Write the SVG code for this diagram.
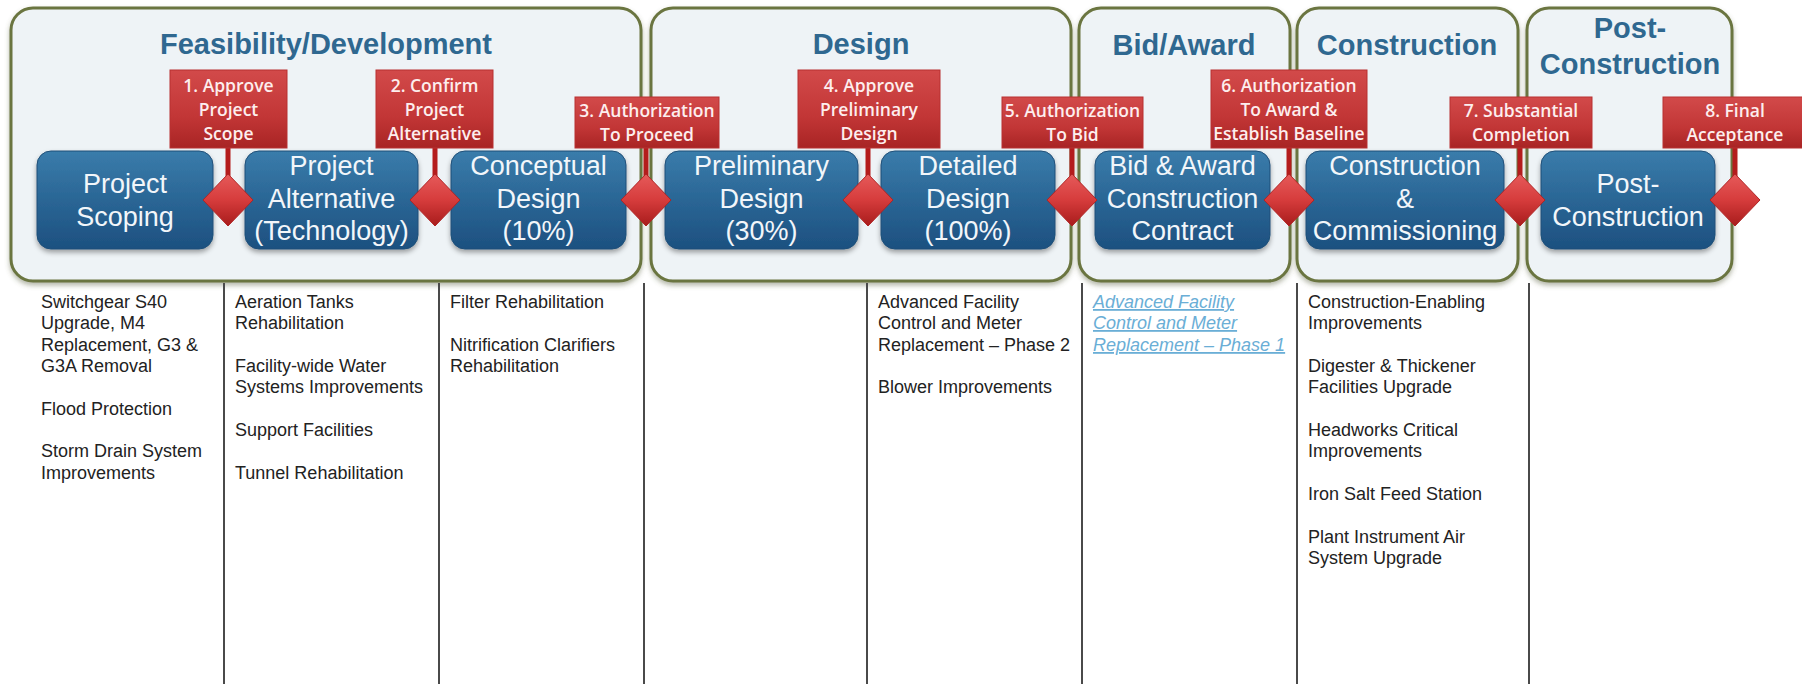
<svg xmlns="http://www.w3.org/2000/svg" width="1802" height="684" viewBox="0 0 1802 684">
<defs>
<linearGradient id="gNode" x1="0" y1="0" x2="0" y2="1">
<stop offset="0" stop-color="#3a7cab"/><stop offset="0.5" stop-color="#2a6695"/><stop offset="1" stop-color="#1d5080"/>
</linearGradient>
<linearGradient id="gLabel" x1="0" y1="0" x2="0" y2="1">
<stop offset="0" stop-color="#d24a4a"/><stop offset="0.6" stop-color="#c23636"/><stop offset="1" stop-color="#a82424"/>
</linearGradient>
<linearGradient id="gDia" x1="0" y1="0" x2="0" y2="1">
<stop offset="0" stop-color="#e65a5a"/><stop offset="0.5" stop-color="#d63c3c"/><stop offset="1" stop-color="#a81c1c"/>
</linearGradient>
<filter id="shPhase" x="-5%" y="-5%" width="110%" height="115%">
<feDropShadow dx="0" dy="3" stdDeviation="2.5" flood-color="#5a6040" flood-opacity="0.45"/>
</filter>
<filter id="shNode" x="-10%" y="-10%" width="120%" height="130%">
<feDropShadow dx="0" dy="3" stdDeviation="2.5" flood-color="#000" flood-opacity="0.35"/>
</filter>
<style>
.phase{fill:#eef3f6;stroke:#6b7540;stroke-width:3}
.ptitle{font-family:"Liberation Sans",Arial,sans-serif;font-weight:bold;font-size:29px;fill:#2f6890;text-anchor:middle}
.node{fill:url(#gNode);stroke:#1f4f78;stroke-width:1;filter:url(#shNode)}
.ntext{font-family:"Liberation Sans",Arial,sans-serif;font-size:27px;fill:#f2f6fa;text-anchor:middle}
.label{fill:url(#gLabel);stroke:#b83030;stroke-width:1}
.ltext{font-family:"Open Sans","Liberation Sans",sans-serif;font-weight:600;font-size:17.5px;fill:#fdeeee;text-anchor:middle}
.dia{fill:url(#gDia);stroke:#b02424;stroke-width:1}
.stem{stroke:#b41c1c;stroke-width:5}
.col{stroke:#4a4a4a;stroke-width:2}
.item{font-family:"Liberation Sans",Arial,sans-serif;font-size:18px;fill:#222}
.link{font-family:"Liberation Sans",Arial,sans-serif;font-size:18px;fill:#6aaed6;font-style:italic;text-decoration:underline}
</style>
</defs>
<rect width="1802" height="684" fill="#ffffff"/>

<g id="phases">
<g id="phase-feasibility"><rect class="phase" x="11" y="8" width="630" height="273" rx="22" filter="url(#shPhase)"/><text class="ptitle" x="326" y="54">Feasibility/Development</text></g>
<g id="phase-design"><rect class="phase" x="651" y="8" width="420" height="273" rx="22" filter="url(#shPhase)"/><text class="ptitle" x="861" y="54">Design</text></g>
<g id="phase-bid"><rect class="phase" x="1079" y="8" width="211" height="273" rx="22" filter="url(#shPhase)"/><text class="ptitle" x="1184" y="55">Bid/Award</text></g>
<g id="phase-construction"><rect class="phase" x="1297" y="8" width="221" height="273" rx="22" filter="url(#shPhase)"/><text class="ptitle" x="1407" y="55">Construction</text></g>
<g id="phase-post"><rect class="phase" x="1527" y="8" width="205" height="273" rx="22" filter="url(#shPhase)"/><text class="ptitle" x="1630" y="38">Post-</text><text class="ptitle" x="1630" y="74">Construction</text></g>
</g>

<g id="columns">
<line class="col" x1="224" y1="283" x2="224" y2="684"/>
<line class="col" x1="439" y1="283" x2="439" y2="684"/>
<line class="col" x1="644" y1="283" x2="644" y2="684"/>
<line class="col" x1="867" y1="283" x2="867" y2="684"/>
<line class="col" x1="1082" y1="283" x2="1082" y2="684"/>
<line class="col" x1="1297" y1="283" x2="1297" y2="684"/>
<line class="col" x1="1529" y1="283" x2="1529" y2="684"/>
</g>

<g id="nodes">
<g id="n-scoping"><rect class="node" x="37" y="151" width="176" height="98" rx="14"/><text class="ntext" x="125" y="193">Project</text><text class="ntext" x="125" y="226">Scoping</text></g>
<g id="n-alternative"><rect class="node" x="245" y="151" width="173" height="98" rx="14"/><text class="ntext" x="331.5" y="175">Project</text><text class="ntext" x="331.5" y="208">Alternative</text><text class="ntext" x="331.5" y="240">(Technology)</text></g>
<g id="n-conceptual"><rect class="node" x="451" y="151" width="175" height="98" rx="14"/><text class="ntext" x="538.5" y="175">Conceptual</text><text class="ntext" x="538.5" y="208">Design</text><text class="ntext" x="538.5" y="240">(10%)</text></g>
<g id="n-preliminary"><rect class="node" x="665" y="151" width="193" height="98" rx="14"/><text class="ntext" x="761.5" y="175">Preliminary</text><text class="ntext" x="761.5" y="208">Design</text><text class="ntext" x="761.5" y="240">(30%)</text></g>
<g id="n-detailed"><rect class="node" x="881" y="151" width="174" height="98" rx="14"/><text class="ntext" x="968" y="175">Detailed</text><text class="ntext" x="968" y="208">Design</text><text class="ntext" x="968" y="240">(100%)</text></g>
<g id="n-bid"><rect class="node" x="1095" y="151" width="175" height="98" rx="14"/><text class="ntext" x="1182.5" y="175">Bid &amp; Award</text><text class="ntext" x="1182.5" y="208">Construction</text><text class="ntext" x="1182.5" y="240">Contract</text></g>
<g id="n-construction"><rect class="node" x="1306" y="151" width="198" height="98" rx="14"/><text class="ntext" x="1405" y="175">Construction</text><text class="ntext" x="1405" y="208">&amp;</text><text class="ntext" x="1405" y="240">Commissioning</text></g>
<g id="n-post"><rect class="node" x="1541" y="151" width="174" height="98" rx="14"/><text class="ntext" x="1628" y="193">Post-</text><text class="ntext" x="1628" y="226">Construction</text></g>
</g>

<g id="connectors">
<line class="stem" x1="228" y1="147" x2="228" y2="176"/>
<line class="stem" x1="435" y1="147" x2="435" y2="176"/>
<line class="stem" x1="646" y1="147" x2="646" y2="176"/>
<line class="stem" x1="868" y1="147" x2="868" y2="176"/>
<line class="stem" x1="1072" y1="147" x2="1072" y2="176"/>
<line class="stem" x1="1289" y1="147" x2="1289" y2="176"/>
<line class="stem" x1="1520" y1="147" x2="1520" y2="176"/>
<line class="stem" x1="1735" y1="147" x2="1735" y2="176"/>
</g>

<g id="milestones">
<g id="m1"><rect class="label" x="170" y="70" width="117" height="78"/><text class="ltext" x="228.5" y="92">1. Approve</text><text class="ltext" x="228.5" y="116">Project</text><text class="ltext" x="228.5" y="140">Scope</text><polygon class="dia" points="228,174 253,200 228,226 203,200"/></g>
<g id="m2"><rect class="label" x="376" y="70" width="117" height="78"/><text class="ltext" x="434.5" y="92">2. Confirm</text><text class="ltext" x="434.5" y="116">Project</text><text class="ltext" x="434.5" y="140">Alternative</text><polygon class="dia" points="435,174 460,200 435,226 410,200"/></g>
<g id="m3"><rect class="label" x="575" y="97" width="144" height="51"/><text class="ltext" x="647" y="117">3. Authorization</text><text class="ltext" x="647" y="141">To Proceed</text><polygon class="dia" points="646,174 671,200 646,226 621,200"/></g>
<g id="m4"><rect class="label" x="798" y="70" width="142" height="78"/><text class="ltext" x="869" y="92">4. Approve</text><text class="ltext" x="869" y="116">Preliminary</text><text class="ltext" x="869" y="140">Design</text><polygon class="dia" points="868,174 893,200 868,226 843,200"/></g>
<g id="m5"><rect class="label" x="1002" y="97" width="141" height="51"/><text class="ltext" x="1072.5" y="117">5. Authorization</text><text class="ltext" x="1072.5" y="141">To Bid</text><polygon class="dia" points="1072,174 1097,200 1072,226 1047,200"/></g>
<g id="m6"><rect class="label" x="1211" y="70" width="156" height="78"/><text class="ltext" x="1289" y="92">6. Authorization</text><text class="ltext" x="1289" y="116">To Award &amp;</text><text class="ltext" x="1289" y="140">Establish Baseline</text><polygon class="dia" points="1289,174 1314,200 1289,226 1264,200"/></g>
<g id="m7"><rect class="label" x="1450" y="97" width="142" height="51"/><text class="ltext" x="1521" y="117">7. Substantial</text><text class="ltext" x="1521" y="141">Completion</text><polygon class="dia" points="1520,174 1545,200 1520,226 1495,200"/></g>
<g id="m8"><rect class="label" x="1663" y="97" width="144" height="51"/><text class="ltext" x="1735" y="117">8. Final</text><text class="ltext" x="1735" y="141">Acceptance</text><polygon class="dia" points="1735,174 1760,200 1735,226 1710,200"/></g>
</g>

<g id="projects">
<g id="col-scoping">
<text class="item" x="41" y="308">Switchgear S40</text>
<text class="item" x="41" y="329">Upgrade, M4</text>
<text class="item" x="41" y="351">Replacement, G3 &amp;</text>
<text class="item" x="41" y="372">G3A Removal</text>
<text class="item" x="41" y="415">Flood Protection</text>
<text class="item" x="41" y="457">Storm Drain System</text>
<text class="item" x="41" y="479">Improvements</text>
</g>
<g id="col-alternative">
<text class="item" x="235" y="308">Aeration Tanks</text>
<text class="item" x="235" y="329">Rehabilitation</text>
<text class="item" x="235" y="372">Facility-wide Water</text>
<text class="item" x="235" y="393">Systems Improvements</text>
<text class="item" x="235" y="436">Support Facilities</text>
<text class="item" x="235" y="479">Tunnel Rehabilitation</text>
</g>
<g id="col-conceptual">
<text class="item" x="450" y="308">Filter Rehabilitation</text>
<text class="item" x="450" y="351">Nitrification Clarifiers</text>
<text class="item" x="450" y="372">Rehabilitation</text>
</g>
<g id="col-detailed">
<text class="item" x="878" y="308">Advanced Facility</text>
<text class="item" x="878" y="329">Control and Meter</text>
<text class="item" x="878" y="351">Replacement – Phase 2</text>
<text class="item" x="878" y="393">Blower Improvements</text>
</g>
<g id="col-bid">
<text class="link" x="1093" y="308">Advanced Facility</text>
<text class="link" x="1093" y="329">Control and Meter</text>
<text class="link" x="1093" y="351">Replacement – Phase 1</text>
</g>
<g id="col-construction">
<text class="item" x="1308" y="308">Construction-Enabling</text>
<text class="item" x="1308" y="329">Improvements</text>
<text class="item" x="1308" y="372">Digester &amp; Thickener</text>
<text class="item" x="1308" y="393">Facilities Upgrade</text>
<text class="item" x="1308" y="436">Headworks Critical</text>
<text class="item" x="1308" y="457">Improvements</text>
<text class="item" x="1308" y="500">Iron Salt Feed Station</text>
<text class="item" x="1308" y="543">Plant Instrument Air</text>
<text class="item" x="1308" y="564">System Upgrade</text>
</g>
</g>
</svg>
